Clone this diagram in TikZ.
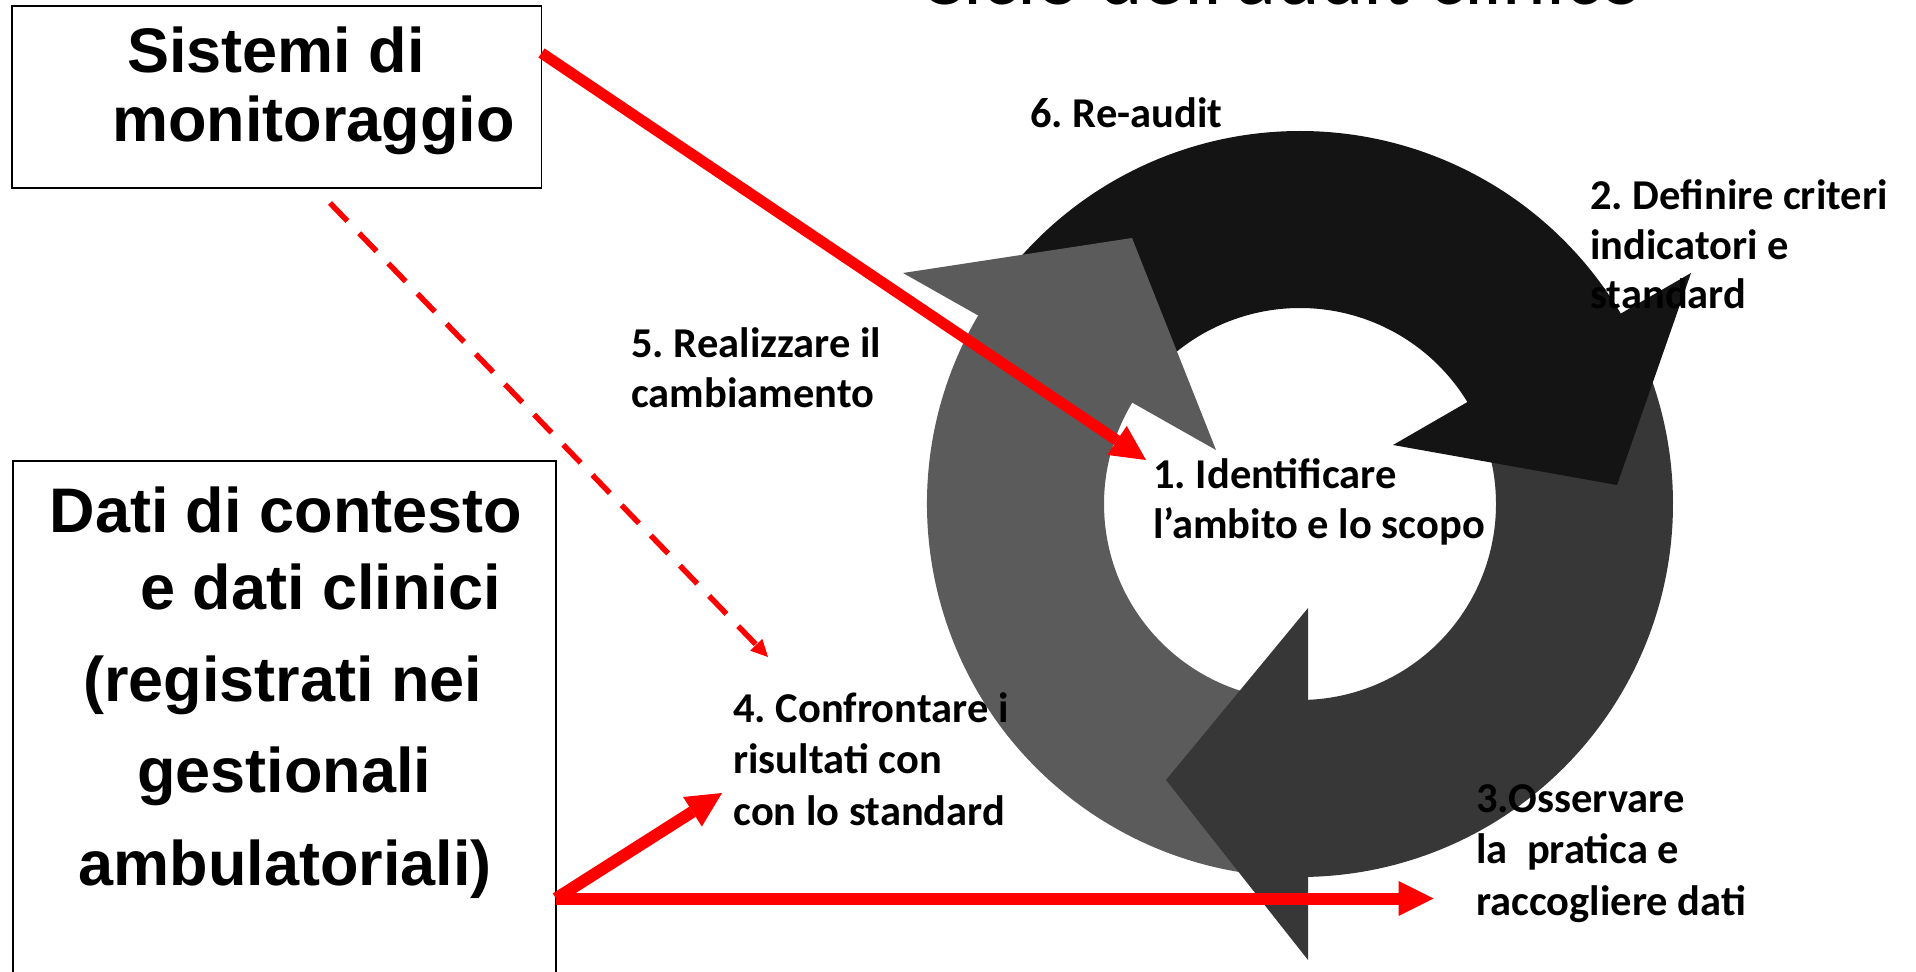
\documentclass[tikz,border=0pt]{standalone}
\usepackage{fontspec}
\setmainfont{Carlito}
\setsansfont{Liberation Sans}
\usetikzlibrary{arrows.meta,calc}
\definecolor{cblack}{HTML}{141414}
\definecolor{cgray}{HTML}{5B5B5B}
\definecolor{cdark}{HTML}{373737}
\definecolor{cred}{HTML}{FF0000}
\frenchspacing
\begin{document}
\begin{tikzpicture}[x=0.5pt,y=0.5pt,
  lab/.style={anchor=base west, inner sep=0pt, font=\fontsize{21.25pt}{25.5pt}\selectfont\bfseries},
  btxt/.style={anchor=base, inner sep=0pt, font=\sffamily\bfseries\fontsize{31.5pt}{36pt}\selectfont},
  box/.style={draw=black, line width=0.8pt, inner sep=0pt, outer sep=0pt, anchor=north west},
  redthick/.style={draw=cred, line width=#1, -{Triangle[length=17.5pt,width=17.5pt,line width=0pt]}},
  reddash/.style={draw=cred, line width=2.75pt, dash pattern=on 12.5pt off 8.5pt, -{Triangle[length=8.5pt,width=8.5pt,line width=0pt]}}]
\useasboundingbox (0,0) rectangle (1916,971);
\clip (0,0) rectangle (1916,971);
\fill[white] (0,0) rectangle (1916,971);

% title (cut off at the top)
\node[anchor=base west, inner sep=0pt, font=\fontsize{41.5pt}{48pt}\selectfont] (title) at (919,966) {Ciclo dell’audit clinico};

% cycle of arrows
\begin{scope}[shift={(1300,467)}]
  \fill[cgray] (147:186.5pt) arc[start angle=147, end angle=270.5, radius=186.5pt] -- (270.5:98pt) arc[start angle=270.5, end angle=147, radius=98pt] -- cycle;
  \fill[cblack] (30:186.5pt) arc[start angle=30, end angle=145, radius=186.5pt] -- (145:98pt) arc[start angle=145, end angle=30, radius=98pt] -- cycle;
  \fill[cdark] (-89.5:186.5pt) arc[start angle=-89.5, end angle=25, radius=186.5pt] -- (25:98pt) arc[start angle=25, end angle=-89.5, radius=98pt] -- cycle;
  \fill[cgray] (-397,231) -- (-168,266) -- (-84,54) -- cycle;
  \fill[cblack] (391,231) -- (317,19) -- (93,59) -- cycle;
  \fill[cdark] (8,-456) -- (-134,-276) -- (8,-104) -- cycle;
\end{scope}

% cycle labels
\node[lab] (l6) at (1030,843) {6. Re-audit};
\node[lab] (l2a) at (1590,761) {2. Definire criteri};
\node[lab] (l2b) at (1590,711) {indicatori e};
\node[lab] (l2c) at (1590,662) {standard};
\node[lab] (l5a) at (631,614) {5. Realizzare il};
\node[lab] (l5b) at (631,564) {cambiamento};
\node[lab] (l1a) at (1153,483) {1. Identificare};
\node[lab] (l1b) at (1153,433) {l’ambito e lo scopo};
\node[lab] (l4a) at (733,249) {4. Confrontare i};
\node[lab] (l4b) at (733,198) {risultati con};
\node[lab] (l4c) at (733,146) {con lo standard};
\node[lab] (l3a) at (1476,159) {3.Osservare};
\node[lab] (l3b) at (1476,108) {la\ \ pratica e};
\node[lab] (l3c) at (1476,56) {raccogliere dati};

% boxes
\node[box, minimum width=264.75pt, minimum height=91pt] (sys) at (12,965) {};
\node[btxt] (sysa) at (276,898) {Sistemi di};
\node[btxt] (sysb) at (313.6,829) {monitoraggio};

\node[box, minimum width=271.6pt, minimum height=265pt] (dati) at (12.8,510) {};
\node[btxt] (datia) at (285.8,439) {Dati di contesto};
\node[btxt] (datib) at (320.7,362) {e dati clinici};
\node[btxt] (datic) at (283,270) {(registrati nei};
\node[btxt] (datid) at (284.4,179) {gestionali};
\node[btxt] (datie) at (285.2,86) {ambulatoriali)};

% red connectors
\coordinate (t1) at (1146,511);
\coordinate (d0) at (330,768);
\coordinate (t2) at (768,314);
\coordinate (t3) at (722,178);
\coordinate (t4) at (1433.5,72.5);
\draw[redthick=5.5pt] ([yshift=-23.5pt]sys.north east) -- (t1);
\draw[reddash] (d0) -- (t2);
\draw[redthick=6pt] ([yshift=-218.75pt]dati.north east) -- (t3);
\draw[redthick=6pt] ([yshift=-218.75pt]dati.north east) -- (t4);
\end{tikzpicture}
\end{document}
